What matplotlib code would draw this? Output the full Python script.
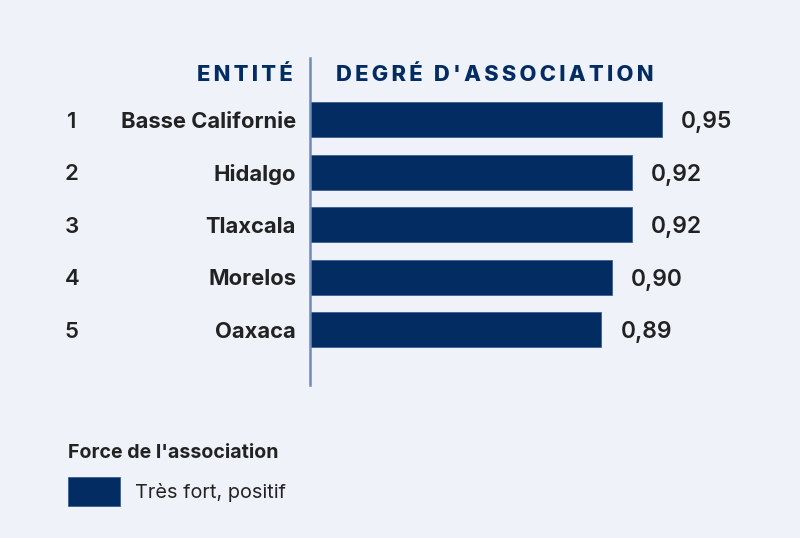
import matplotlib.pyplot as plt
import matplotlib.transforms as mtransforms
from matplotlib.patches import Rectangle

# data
ranks = ["1", "2", "3", "4", "5"]
entities = ["Basse Californie", "Hidalgo", "Tlaxcala", "Morelos", "Oaxaca"]
values = [0.95, 0.92, 0.92, 0.90, 0.89]
value_labels = ["0,95", "0,92", "0,92", "0,90", "0,89"]

bg = "#eff3f9"
navy = "#022c62"
ink = "#222222"

plt.rcParams['font.family'] = ['Inter', 'DejaVu Sans']


def spaced(s):
    return "\u2009".join(s)


fig = plt.figure(figsize=(8, 5.38), dpi=100)
fig.patch.set_facecolor(bg)

W, H = 800, 538
ax = fig.add_axes([310 / W, 1 - 385 / H, 400 / W, 327 / H])
ax.set_facecolor(bg)

ypos = list(range(len(entities)))
ax.barh(ypos, values, left=0, height=0.667, color=navy, edgecolor="#3d5f8f", linewidth=0.6)
ax.set_xlim(0.6, 0.998)
ax.set_ylim(5.048, -1.18)

for s in ["top", "right", "bottom"]:
    ax.spines[s].set_visible(False)
ax.spines["left"].set_color("#6d8cb8")
ax.spines["left"].set_linewidth(1.8)
ax.set_xticks([])
ax.set_yticks([])

for y, v, lab in zip(ypos, values, value_labels):
    ax.annotate(lab, (v, y), xytext=(14, 0), textcoords="offset points",
                ha="left", va="center_baseline", fontsize=16.5, color=ink, fontweight="semibold")

trans = mtransforms.blended_transform_factory(fig.transFigure, ax.transData)
for y, r, e in zip(ypos, ranks, entities):
    ax.text(72 / W, y, r, transform=trans, ha="center", va="center_baseline",
            fontsize=16, color=ink, fontweight="semibold")
    ax.text(296 / W, y, e, transform=trans, ha="right", va="center_baseline",
            fontsize=15.8, color=ink, fontweight="bold")

fig.text(293 / W, 1 - 73 / H, spaced("ENTITÉ"), ha="right", va="center_baseline",
         fontsize=15.8, color=navy, fontweight="heavy")
fig.text(336 / W, 1 - 73 / H, spaced("DEGRÉ D'ASSOCIATION"), ha="left", va="center_baseline",
         fontsize=15.8, color=navy, fontweight="heavy")

# legend
fig.text(68 / W, 1 - 451 / H, "Force de l'association", ha="left", va="center_baseline",
         fontsize=14.1, color=ink, fontweight="bold")
fig.patches.append(Rectangle((68 / W, 1 - 506 / H), 52 / W, 29 / H,
                             transform=fig.transFigure, facecolor=navy,
                             edgecolor="#3d5f8f", linewidth=0.6))
fig.text(135 / W, 1 - 491 / H, "Très fort, positif", ha="left", va="center_baseline",
         fontsize=14.3, color=ink)

fig.savefig("out.png", dpi=100, facecolor=bg)
